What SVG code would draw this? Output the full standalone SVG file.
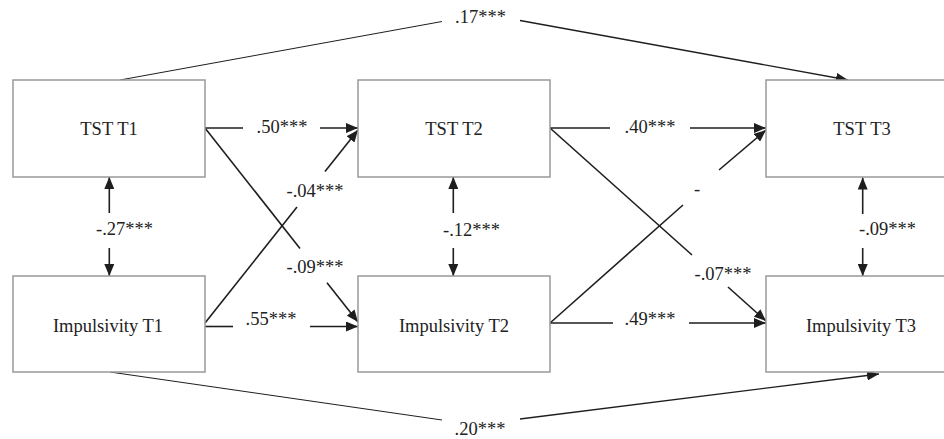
<svg xmlns="http://www.w3.org/2000/svg" width="944" height="439" viewBox="0 0 944 439">
<defs>
<marker id="ah" markerUnits="userSpaceOnUse" markerWidth="12" markerHeight="10" refX="12" refY="5" orient="auto">
<path d="M0,0 L12,5 L0,10 z" fill="#1e1e1e"/>
</marker>
<style>
.box{fill:#fff;stroke:#999;stroke-width:1.5}
.t{font-family:"Liberation Serif","Times New Roman",serif;font-size:18.5px;fill:#222}
.c{text-anchor:middle}
.e{stroke:#1e1e1e;stroke-width:1.6;fill:none}
.l{stroke:#1e1e1e;stroke-width:1;fill:none}
.a{marker-end:url(#ah)}
</style>
</defs>
<rect width="944" height="439" fill="#fff"/>
<g id="connectors">
<line class="e" x1="205" y1="128" x2="243" y2="128"/>
<line class="e a" x1="320" y1="128" x2="358" y2="128"/>
<line class="e" x1="205" y1="326.5" x2="233" y2="326.5"/>
<line class="e a" x1="310" y1="326.5" x2="358" y2="326.5"/>
<line class="e" x1="550" y1="128" x2="610" y2="128"/>
<line class="e a" x1="690" y1="128" x2="766" y2="128"/>
<line class="e" x1="550" y1="323" x2="613" y2="323"/>
<line class="e a" x1="689" y1="323" x2="766" y2="323"/>
<line class="e" x1="205" y1="128" x2="300" y2="248.5"/>
<line class="e a" x1="327" y1="282.7" x2="358" y2="322"/>
<line class="e" x1="205" y1="323" x2="297" y2="207"/>
<line class="e a" x1="325" y1="171.6" x2="358" y2="130"/>
<line class="e" x1="550" y1="128" x2="692" y2="255"/>
<line class="e a" x1="728" y1="287" x2="766" y2="321"/>
<line class="e" x1="550" y1="323" x2="683" y2="205"/>
<line class="e a" x1="719" y1="170" x2="766" y2="130"/>
<line class="e a" x1="109.3" y1="213" x2="109.3" y2="177"/>
<line class="e a" x1="109.3" y1="248" x2="109.3" y2="276"/>
<line class="e a" x1="453.3" y1="213" x2="453.3" y2="177"/>
<line class="e a" x1="453.3" y1="248" x2="453.3" y2="276"/>
<line class="e a" x1="862.7" y1="214" x2="862.7" y2="177.5"/>
<line class="e a" x1="862.7" y1="248" x2="862.7" y2="276"/>
<line class="l" x1="120" y1="80" x2="442" y2="21.5"/>
<line class="e a" style="stroke-width:1.3" x1="520" y1="20.5" x2="848" y2="80"/>
<line class="l" x1="110" y1="372" x2="442" y2="420"/>
<line class="e a" style="stroke-width:1.3" x1="520" y1="419" x2="879" y2="374"/>
<text class="t c" x="282" y="133">.50***</text>
<text class="t c" x="271" y="325">.55***</text>
<text class="t c" x="650" y="133">.40***</text>
<text class="t c" x="650" y="325">.49***</text>
<text class="t c" x="315" y="273">-.09***</text>
<text class="t c" x="315" y="197">-.04***</text>
<text class="t c" x="723" y="280">-.07***</text>
<text class="t" x="694" y="195">-</text>
<text class="t" x="96" y="235">-.27***</text>
<text class="t" x="443" y="236">-.12***</text>
<text class="t" x="859" y="235">-.09***</text>
<text class="t c" x="480.5" y="23">.17***</text>
<text class="t c" x="480" y="435">.20***</text>
</g>
<g id="tst-t1">
<rect class="box" x="13" y="80" width="192" height="97"/>
<text class="t c" x="109" y="135">TST T1</text>
</g>
<g id="tst-t2">
<rect class="box" x="358" y="80" width="192" height="97"/>
<text class="t c" x="454" y="135">TST T2</text>
</g>
<g id="tst-t3">
<rect class="box" x="766" y="80" width="192" height="97"/>
<text class="t c" x="862" y="135">TST T3</text>
</g>
<g id="imp-t1">
<rect class="box" x="13" y="276" width="192" height="96"/>
<text class="t c" x="108" y="332">Impulsivity T1</text>
</g>
<g id="imp-t2">
<rect class="box" x="358" y="276" width="192" height="96"/>
<text class="t c" x="454" y="332">Impulsivity T2</text>
</g>
<g id="imp-t3">
<rect class="box" x="766" y="276" width="192" height="96"/>
<text class="t c" x="861" y="332">Impulsivity T3</text>
</g>
</svg>
